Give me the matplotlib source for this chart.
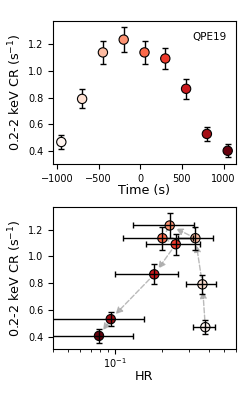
import numpy as np
import matplotlib
matplotlib.use("Agg")
import matplotlib.pyplot as plt

# QPE19 light curve and hardness ratio
time = [-950, -700, -450, -200, 50, 300, 550, 800, 1050]
rate = [0.47, 0.79, 1.135, 1.23, 1.135, 1.09, 0.865, 0.53, 0.405]
rate_err = [0.05, 0.07, 0.085, 0.09, 0.085, 0.08, 0.075, 0.055, 0.05]
hr = [0.381, 0.365, 0.329, 0.225, 0.202, 0.246, 0.179, 0.094, 0.079]
hr_lo = [0.317, 0.285, 0.254, 0.130, 0.113, 0.158, 0.100, 0.030, 0.030]
hr_hi = [0.437, 0.443, 0.425, 0.320, 0.316, 0.350, 0.254, 0.153, 0.130]

hr = np.array(hr)
hr_err = [hr - np.array(hr_lo), np.array(hr_hi) - hr]
colors = plt.cm.Reds(np.linspace(0, 1, len(time)))

fig = plt.figure(figsize=(2.46, 3.93), dpi=100)
ax1 = fig.add_axes([53/246, 1 - 164/393, 183/246, 143/393])
ax2 = fig.add_axes([53/246, 1 - 349/393, 183/246, 142/393])

# top: count rate vs time
ax1.errorbar(time, rate, yerr=rate_err, fmt="none", ecolor="k", elinewidth=1,
             capsize=2, zorder=1)
ax1.scatter(time, rate, c=colors, s=45, edgecolors="k", linewidths=0.8, zorder=2)
ax1.set_xlabel("Time (s)", fontsize=9.2, labelpad=0.5)
ax1.set_ylabel("0.2-2 keV CR (s$^{-1}$)", fontsize=9.2, labelpad=3)
ax1.text(0.95, 0.92, "QPE19", transform=ax1.transAxes, ha="right", va="top",
         fontsize=7.5)
ax1.tick_params(labelsize=7)

# bottom: count rate vs hardness ratio
for i in range(len(hr) - 1):
    ax2.annotate("", xy=(hr[i+1], rate[i+1]), xytext=(hr[i], rate[i]),
                 arrowprops=dict(arrowstyle="-|>", color="darkgray", ls="--",
                                 lw=1, shrinkA=5, shrinkB=5,
                                 mutation_scale=10, alpha=0.8), zorder=1)
ax2.scatter(hr, rate, c=colors, s=45, edgecolors="k", linewidths=0.8, zorder=2)
ax2.errorbar(hr, rate, xerr=hr_err, yerr=rate_err, fmt="none", ecolor="k",
             elinewidth=1, capsize=2, zorder=3)
ax2.set_xscale("log")
ax2.set_xlim(0.04, 0.6)
ax2.set_xlabel("HR", fontsize=9.2, labelpad=0)
ax2.set_ylabel("0.2-2 keV CR (s$^{-1}$)", fontsize=9.2, labelpad=3)
ax2.tick_params(labelsize=7)
ax2.tick_params(axis="x", pad=2)

fig.savefig("out.png", dpi=100)
